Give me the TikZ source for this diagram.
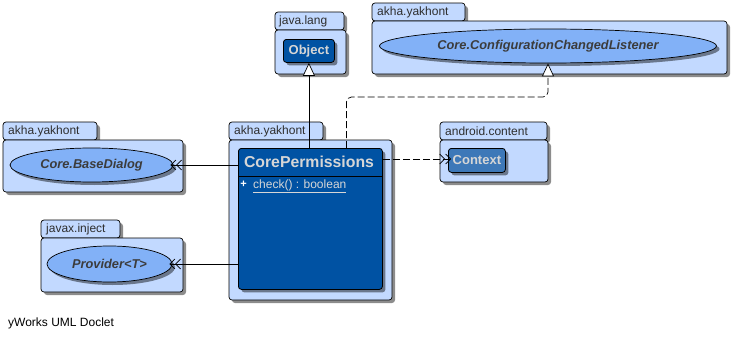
\documentclass[tikz,border=0pt]{standalone}
\usepackage{fontspec}
\setmainfont{Liberation Sans}
\usetikzlibrary{shapes.geometric,arrows.meta,shadows}

\definecolor{pkgfill}{HTML}{C2D9FF}
\definecolor{clsfill}{HTML}{0052A3}
\definecolor{ctxfill}{HTML}{3D78B8}
\definecolor{ifcfill}{HTML}{82B1F7}
\definecolor{lighttext}{HTML}{D6D6D6}
\definecolor{darktext}{HTML}{3C3C3C}
\definecolor{pkgtext}{HTML}{2E2E2E}

\begin{document}
\begin{tikzpicture}[
  x=1pt, y=-1pt,
  shade/.style={drop shadow={shadow xshift=3pt, shadow yshift=-3pt, fill=black, opacity=0.45}},
  pkgbox/.style={draw=black, fill=pkgfill, rounded corners=3pt, line width=0.7pt, shade},
  pkglabel/.style={anchor=west, inner sep=0pt, text=pkgtext, font=\fontsize{12}{14}\selectfont},
  classbox/.style={draw=black, rounded corners=3pt, line width=0.8pt, shade, inner sep=0pt, anchor=north west},
  ifcbox/.style={ellipse, draw=black, fill=ifcfill, line width=0.7pt, shade, inner sep=0pt,
    text=darktext, font=\fontsize{12.8}{15}\selectfont\bfseries\itshape},
  gen/.style={-{Triangle[length=13pt, width=12pt, fill=white]}, line width=0.7pt},
  real/.style={gen, dash pattern=on 7pt off 3pt, rounded corners=5pt},
  barbs/.style={-{Straight Barb[length=5pt, width=10pt] Straight Barb[length=5pt, width=10pt, sep=-3pt]}, line width=0.7pt},
  dep/.style={barbs, dash pattern=on 7pt off 3pt},
  assoc/.style={barbs},
]
\useasboundingbox (0,0) rectangle (732,340);

% ---- package java.lang
\draw[pkgbox] (275,12) rectangle (344,30);
\draw[pkgbox] (275,30) rectangle (346,74);
\node[pkglabel] (pjl) at (279,21) {java.lang};
\node[classbox, fill=clsfill, minimum width=51pt, minimum height=23pt] (obj) at (283,39) {};
\node[text=lighttext, font=\fontsize{13}{15}\selectfont\bfseries] (objt) at (obj.center) {Object};

% ---- package akha.yakhont (listener)
\draw[pkgbox] (372,3) rectangle (465,21);
\draw[pkgbox] (372,21) rectangle (727,74);
\node[pkglabel] (pak1) at (377,12) {akha.yakhont};
\node[ifcbox, minimum width=337pt, minimum height=34pt] (lst) at (548,46) {Core.ConfigurationChangedListener};

% ---- package akha.yakhont (dialog)
\draw[pkgbox] (3,122) rectangle (97,140);
\draw[pkgbox] (3,140) rectangle (183,192);
\node[pkglabel] (pak2) at (8,131) {akha.yakhont};
\node[ifcbox, minimum width=163pt, minimum height=34pt] (bd) at (91.5,165) {Core.BaseDialog};

% ---- package javax.inject
\draw[pkgbox] (41,220) rectangle (120,238);
\draw[pkgbox] (41,238) rectangle (183,292);
\node[pkglabel] (pji) at (46,229) {javax.inject};
\node[ifcbox, minimum width=125pt, minimum height=36pt] (pv) at (109.5,264) {Provider<T>};

% ---- package akha.yakhont (main class)
\draw[pkgbox] (229,122) rectangle (323,140);
\draw[pkgbox] (229,140) rectangle (392,300);
\node[pkglabel] (pak3) at (234,131) {akha.yakhont};
\node[classbox, fill=clsfill, minimum width=144pt, minimum height=141pt] (cp) at (238,148) {};
\draw[line width=1pt] (cp.west |- 0,176) -- (cp.east |- 0,176);
\node[text=lighttext, font=\fontsize{15.8}{18}\selectfont\bfseries] (cpt) at (309,162) {CorePermissions};
\node[text=white, font=\fontsize{11}{13}\selectfont\bfseries, inner sep=0pt] (cpp) at (243.5,184) {+};
\node[text=lighttext, font=\fontsize{12}{14}\selectfont, inner sep=0pt, anchor=west] (cpm) at (253,186) {\underline{check() : boolean}};

% ---- package android.content
\draw[pkgbox] (440,122) rectangle (547,140);
\draw[pkgbox] (440,140) rectangle (548,182);
\node[pkglabel] (pac) at (445,131) {android.content};
\node[classbox, fill=ctxfill, minimum width=57pt, minimum height=24pt] (ctx) at (448,148) {};
\node[text=lighttext, font=\fontsize{13}{15}\selectfont\bfseries] (ctxt) at (ctx.center) {Context};

% ---- relations
\draw[gen] (obj.south |- cp.north) -- (obj.south);
\draw[real] ([xshift=36pt]cp.north) -- ++(0,-51) -| (lst.south);
\draw[dep] (cp.east |- 0,159) -- (ctx.west |- 0,159);
\draw[assoc] (cp.west |- bd.east) -- (bd.east);
\draw[assoc] (cp.west |- pv.east) -- (pv.east);

% ---- footer
\node[anchor=west, inner sep=0pt, font=\fontsize{12}{14}\selectfont] (foot) at (8,323) {yWorks UML Doclet};
\end{tikzpicture}
\end{document}
